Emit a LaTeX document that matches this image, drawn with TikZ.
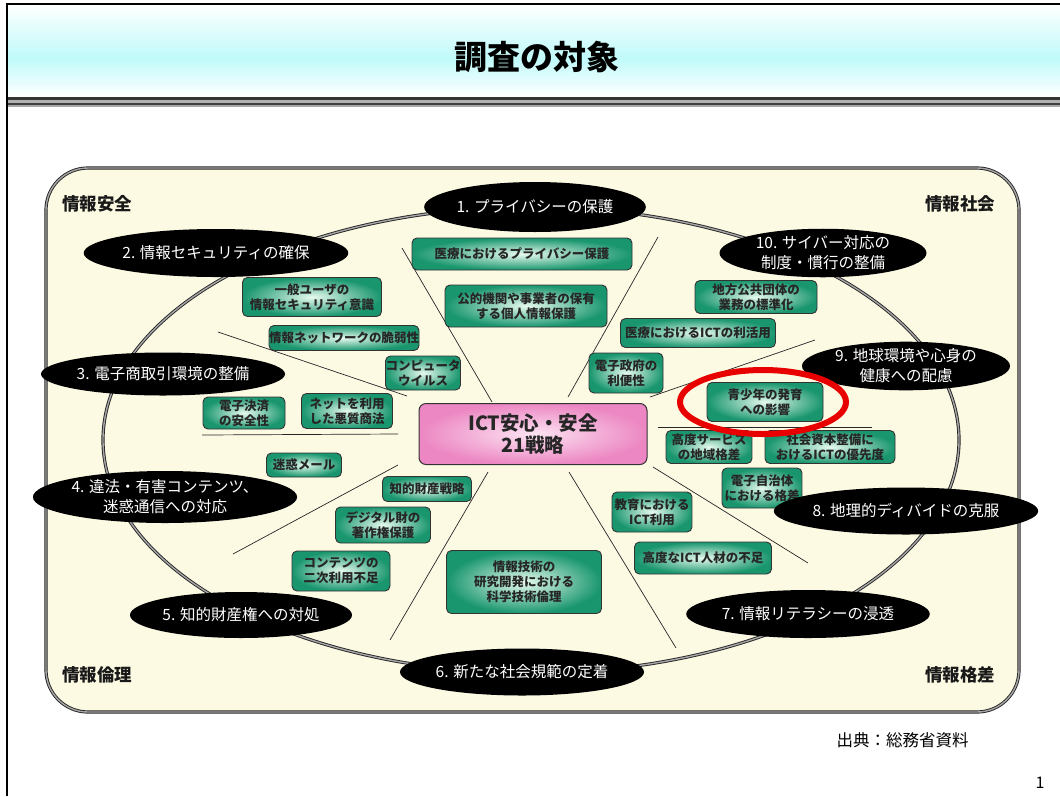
\documentclass[tikz,border=0pt]{standalone}
\usepackage{fontspec}
\newfontfamily\jp{Noto Sans CJK JP}
\usetikzlibrary{shapes.geometric}
\definecolor{cream}{RGB}{253,250,228}
\definecolor{tealout}{RGB}{25,150,110}
\definecolor{tealin}{RGB}{230,250,238}
\definecolor{pinkout}{RGB}{236,135,195}
\definecolor{pinkin}{RGB}{252,228,242}
\definecolor{cyanband}{RGB}{192,250,250}
\definecolor{redring}{RGB}{232,0,0}
\begin{document}
\begin{tikzpicture}[x=1pt,y=-1pt,
  dbl/.style={draw=black!85, double=black!35, double distance=1.4pt, line width=0.9pt},
  topic/.style={ellipse, fill=black, text=white, inner sep=0pt, align=center,
    font=\jp\fontsize{15.5}{20}\selectfont},
  gbox/.style={rectangle, rounded corners=5pt, draw=black!80, line width=0.9pt,
    inner color=tealin, outer color=tealout, align=center, inner sep=0pt,
    font=\jp\bfseries\fontsize{12.5}{15}\selectfont, text=black!85},
  pbox/.style={rectangle, rounded corners=7pt, draw=black!80, line width=1pt,
    inner color=pinkin, outer color=pinkout, align=center, inner sep=0pt,
    font=\jp\bfseries\fontsize{19.5}{22}\selectfont, text=black!85},
  corner/.style={font=\jp\bfseries\fontsize{17.5}{20}\selectfont, text=black!90},
  divline/.style={draw=black!85, line width=0.7pt}]
\useasboundingbox (0,0) rectangle (1060,796);
\fill[white] (0,0) rectangle (1060,796);
% title band
\shade[top color=white, bottom color=cyanband] (7,4) rectangle (1060,58);
\shade[top color=cyanband, bottom color=white] (7,58) rectangle (1060,97);
\node[font=\jp\bfseries\fontsize{33}{36}\selectfont] (title) at (537,57) {調査の対象};
% rules under title
\fill[black!80] (7,96.5) rectangle (1060,99.5);
\fill[black!30] (7,99.5) rectangle (1060,103);
\fill[black!75] (7,103) rectangle (1060,104.7);
\fill[black!35] (7,104.7) rectangle (1060,106.5);
% slide border
\draw[line width=1.6pt] (7,796) -- (7,4) -- (1060,4);
% main panel
\draw[dbl, fill=cream, rounded corners=42pt] (46,168) rectangle (1019,712);
% big ellipse
\draw[dbl] (531,440) ellipse [x radius=428, y radius=233];
% divider lines
\coordinate (a1) at (402,248); \coordinate (b1) at (492,402);
\coordinate (a2) at (658,237); \coordinate (b2) at (568,397);
\coordinate (a3) at (218,332); \coordinate (b3) at (407,396);
\coordinate (a4) at (202,435); \coordinate (b4) at (398,434);
\coordinate (a5) at (398,465); \coordinate (b5) at (233,554);
\coordinate (a6) at (488,472); \coordinate (b6) at (390,640);
\coordinate (a7) at (569,472); \coordinate (b7) at (676,648);
\coordinate (a8) at (653,467); \coordinate (b8) at (808,563);
\coordinate (a9) at (658,427); \coordinate (b9) at (872,427);
\coordinate (a10) at (650,397); \coordinate (b10) at (815,340);
\foreach \i in {1,...,10} {\draw[divline] (a\i) -- (b\i);}
% green boxes
\node[gbox, minimum width=220pt, minimum height=32pt] (g1) at (522,254) {医療におけるプライバシー保護};
\node[gbox, minimum width=162pt, minimum height=42pt] (g2) at (526,306) {公的機関や事業者の保有\\する個人情報保護};
\node[gbox, minimum width=139pt, minimum height=39pt] (g3) at (312,297) {一般ユーザの\\情報セキュリティ意識};
\node[gbox, minimum width=133pt, minimum height=25pt] (g4) at (344,338) {情報ネットワークの脆弱性};
\node[gbox, minimum width=72pt, minimum height=34pt] (g5) at (423,373) {コンピュータ\\ウイルス};
\node[gbox, minimum width=82pt, minimum height=32pt] (g6) at (244,413) {電子決済\\の安全性};
\node[gbox, minimum width=91pt, minimum height=35pt] (g7) at (347,411) {ネットを利用\\した悪質商法};
\node[gbox, minimum width=75pt, minimum height=24pt] (g8) at (304,465) {迷惑メール};
\node[gbox, minimum width=89pt, minimum height=25pt] (g9) at (427,489) {知的財産戦略};
\node[gbox, minimum width=95pt, minimum height=36pt] (g10) at (383,525) {デジタル財の\\著作権保護};
\node[gbox, minimum width=98pt, minimum height=40pt] (g11) at (341,571) {コンテンツの\\二次利用不足};
\node[gbox, minimum width=155pt, minimum height=63pt] (g12) at (524,582) {情報技術の\\研究開発における\\科学技術倫理};
\node[gbox, minimum width=137pt, minimum height=32pt] (g13) at (703,558) {高度なICT人材の不足};
\node[gbox, minimum width=80pt, minimum height=40pt] (g14) at (652,512) {教育における\\ICT利用};
\node[gbox, minimum width=80pt, minimum height=40pt] (g15) at (762,488) {電子自治体\\における格差};
\node[gbox, minimum width=86pt, minimum height=33pt] (g16) at (709,447) {高度サービス\\の地域格差};
\node[gbox, minimum width=130pt, minimum height=33pt] (g17) at (830,447) {社会資本整備に\\おけるICTの優先度};
\node[gbox, minimum width=116pt, minimum height=39pt] (g18) at (765,402) {青少年の発育\\への影響};
\node[gbox, minimum width=74pt, minimum height=40pt] (g19) at (626,373) {電子政府の\\利便性};
\node[gbox, minimum width=155pt, minimum height=29pt] (g20) at (698,333) {医療におけるICTの利活用};
\node[gbox, minimum width=122pt, minimum height=33pt] (g21) at (756,297) {地方公共団体の\\業務の標準化};
% centre
\node[pbox, minimum width=228pt, minimum height=61pt] (core) at (533,434) {ICT安心・安全\\21戦略};
% topic ellipses
\node[topic, minimum width=210pt, minimum height=50pt] (t1) at (535,207) {1. プライバシーの保護};
\node[topic, minimum width=208pt, minimum height=48pt] (t2) at (216,253) {2. 情報セキュリティの確保};
\node[topic, minimum width=207pt, minimum height=43pt] (t3) at (163,374) {3. 電子商取引環境の整備};
\node[topic, minimum width=210pt, minimum height=52pt] (t4) at (165,497) {4. 違法・有害コンテンツ、\\迷惑通信への対応};
\node[topic, minimum width=208pt, minimum height=46pt] (t5) at (241,615) {5. 知的財産権への対処};
\node[topic, minimum width=209pt, minimum height=47pt] (t6) at (522,672) {6. 新たな社会規範の定着};
\node[topic, minimum width=210pt, minimum height=48pt] (t7) at (808,614) {7. 情報リテラシーの浸透};
\node[topic, minimum width=208pt, minimum height=47pt] (t8) at (906,511) {8. 地理的ディバイドの克服};
\node[topic, minimum width=208pt, minimum height=48pt] (t9) at (906,366) {9. 地球環境や心身の\\健康への配慮};
\node[topic, minimum width=207pt, minimum height=48pt] (t10) at (823,253) {10. サイバー対応の\\制度・慣行の整備};
% red ring
\node[ellipse, draw=redring, line width=6pt, minimum width=166pt, minimum height=64pt] (ring) at (763,402) {};
% corner labels
\node[corner] (c1) at (97,204) {情報安全};
\node[corner] (c2) at (960,204) {情報社会};
\node[corner] (c3) at (97,675) {情報倫理};
\node[corner] (c4) at (960,675) {情報格差};
% footer
\node[font=\jp\fontsize{16.5}{18}\selectfont, anchor=west] (src) at (833,740) {出典：総務省資料};
\node[font=\jp\fontsize{16}{18}\selectfont] (page) at (1040,783) {1};
\end{tikzpicture}
\end{document}
